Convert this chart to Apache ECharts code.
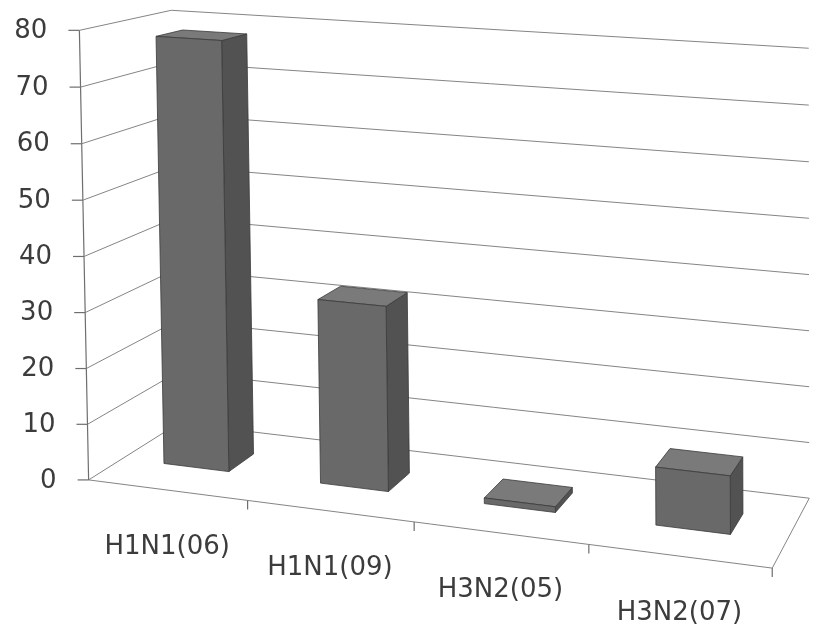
<!DOCTYPE html>
<html>
<head>
<meta charset="utf-8">
<title>H1N1 / H3N2</title>
<script src="https://cdn.jsdelivr.net/npm/echarts@6/dist/echarts.min.js"></script>
<style>
  html, body { margin: 0; padding: 0; background: #ffffff; }
  #chart { width: 827px; height: 629px; }
</style>
</head>
<body>
<div id="chart"></div>
<script>
// ---- data ----
const categories = ['H1N1(06)', 'H1N1(09)', 'H3N2(05)', 'H3N2(07)'];
const values = [78, 33, 1, 10];
const yTicks = [0, 10, 20, 30, 40, 50, 60, 70, 80];
const yTickLabels = ['0', '10', '20', '30', '40', '50', '60', '70', '80'];
const yMax = 80;

// ---- 3D view ----
// Plot box in normalised world units: x across categories (0..1),
// y up the value axis (0..1), z from the front edge (0) to the back wall (1).
// Each entry pins a box corner to the screen; a projective camera is fitted to them.
const VIEW = [
  [[0, 0, 0], [90, 477]],
  [[0, 1, 0], [75, 33]],
  [[0.25, 0, 0], [248, 502]],
  [[0.5, 0, 0], [415, 523]],
  [[0.75, 0, 0], [590, 545]],
  [[1, 0, 0], [773, 565]],
  [[1, 0, 1], [808, 501]],
  [[0, 0, 1], [176, 423]],
  [[0, 1, 1], [176, 9]],
  [[1, 1, 1], [808, 47]]
];
const BAR_WIDTH = 0.42;      // share of a category slot
const BAR_Z = [0.36, 0.66];  // depth of the columns

function fitCamera(pairs) {
  const S = 800;
  const A = [], b = [];
  pairs.forEach(function (p) {
    const x = p[0][0], y = p[0][1], z = p[0][2];
    const u = p[1][0] / S, v = p[1][1] / S;
    A.push([x, y, z, 1, 0, 0, 0, 0, -u * x, -u * y, -u * z]); b.push(u);
    A.push([0, 0, 0, 0, x, y, z, 1, -v * x, -v * y, -v * z]); b.push(v);
  });
  const n = 11;
  const M = [];
  for (let i = 0; i < n; i++) {
    const row = [];
    for (let j = 0; j < n; j++) {
      let s = 0;
      for (let k = 0; k < A.length; k++) s += A[k][i] * A[k][j];
      row.push(s);
    }
    let r = 0;
    for (let k = 0; k < A.length; k++) r += A[k][i] * b[k];
    row.push(r);
    M.push(row);
  }
  for (let c = 0; c < n; c++) {
    let piv = c;
    for (let r = c + 1; r < n; r++) if (Math.abs(M[r][c]) > Math.abs(M[piv][c])) piv = r;
    const t = M[c]; M[c] = M[piv]; M[piv] = t;
    for (let r = 0; r < n; r++) {
      if (r === c) continue;
      const f = M[r][c] / M[c][c];
      for (let k = c; k <= n; k++) M[r][k] -= f * M[c][k];
    }
  }
  const p = M.map(function (row, i) { return row[n] / row[i]; });
  return function (x, y, z) {
    const w = p[8] * x + p[9] * y + p[10] * z + 1;
    return [
      (p[0] * x + p[1] * y + p[2] * z + p[3]) / w * S,
      (p[4] * x + p[5] * y + p[6] * z + p[7]) / w * S
    ];
  };
}
const project = fitCamera(VIEW);

const GRID_COLOR = '#858585';
const AXIS_COLOR = '#6e6e6e';
const TEXT_COLOR = '#3c3c3c';
const FONT = 'DejaVu Sans';

// position of a value on the value axis, as a 0..1 share of its height
function yShare(api, cs, v) {
  const pt = api.coord([0, v]);
  return (cs.y + cs.height - pt[1]) / cs.height;
}

function line(a, b, color, width) {
  return {
    type: 'line',
    shape: { x1: a[0], y1: a[1], x2: b[0], y2: b[1] },
    style: { stroke: color, lineWidth: width || 1 },
    silent: true
  };
}

// walls, floor, value axis, its ticks and labels
function renderFrame(params, api) {
  const cs = params.coordSys;
  const i = params.dataIndex;
  const v = api.value(1);
  const y = yShare(api, cs, v);
  const children = [];
  const f = project(0, y, 0), bl = project(0, y, 1), br = project(1, y, 1);
  children.push({
    type: 'polyline',
    shape: { points: [f, bl, br] },
    style: { stroke: GRID_COLOR, lineWidth: 1, fill: null },
    silent: true
  });
  children.push(line([f[0] - 11, f[1]], f, AXIS_COLOR, 1.2));
  children.push({
    type: 'text',
    style: {
      x: f[0] - 32, y: f[1] + 1,
      text: yTickLabels[i],
      fill: TEXT_COLOR,
      font: '26px "' + FONT + '"',
      align: 'right', verticalAlign: 'middle'
    },
    silent: true
  });
  if (i === 0) {
    children.push(line(project(0, 0, 0), project(0, 1, 0), AXIS_COLOR, 1.2));
    children.push(line(project(0, 0, 0), project(1, 0, 0), GRID_COLOR, 1));
    children.push(line(project(1, 0, 0), project(1, 0, 1), GRID_COLOR, 1));
  }
  return { type: 'group', children: children };
}

// one 3D column per category, with its category label under the floor
function renderBar(params, api) {
  const cs = params.coordSys;
  const idx = api.value(0);
  const val = api.value(1);
  const top = api.coord([idx, val]);
  const base = api.coord([idx, 0]);
  const slot = api.size([1, 0])[0] / cs.width;
  const xc = (top[0] - cs.x) / cs.width - 0.005;
  const yT = (cs.y + cs.height - top[1]) / cs.height;
  const yB = (cs.y + cs.height - base[1]) / cs.height;
  const x0 = xc - slot * BAR_WIDTH / 2, x1 = xc + slot * BAR_WIDTH / 2;
  const z0 = BAR_Z[0], z1 = BAR_Z[1];
  const edge = { stroke: '#3a3a3a', lineWidth: 0.8 };
  const face = function (pts, fill) {
    return { type: 'polygon', shape: { points: pts }, style: Object.assign({ fill: fill }, edge) };
  };
  const children = [
    face([project(x1, yB, z0), project(x1, yB, z1), project(x1, yT, z1), project(x1, yT, z0)], '#525252'),
    face([project(x0, yT, z0), project(x1, yT, z0), project(x1, yT, z1), project(x0, yT, z1)], '#7a7a7a'),
    face([project(x0, yB, z0), project(x1, yB, z0), project(x1, yT, z0), project(x0, yT, z0)], '#696969')
  ];
  // category boundary tick on the front floor edge
  const xr = (top[0] - cs.x) / cs.width + slot / 2;
  const t = project(xr, 0, 0);
  children.push(line(t, [t[0], t[1] + 9], AXIS_COLOR, 1.2));
  // category label
  const lp = project((top[0] - cs.x) / cs.width, 0, 0);
  children.push({
    type: 'text',
    style: {
      x: lp[0], y: lp[1] + 57,
      text: categories[idx],
      fill: TEXT_COLOR,
      font: '26px "' + FONT + '"',
      align: 'center', verticalAlign: 'middle'
    },
    silent: true
  });
  return { type: 'group', children: children };
}

const chart = echarts.init(document.getElementById('chart'), null, { renderer: 'canvas' });
chart.setOption({
  animation: false,
  backgroundColor: '#ffffff',
  grid: { left: 100, right: 100, top: 100, bottom: 100 },
  xAxis: { type: 'category', data: categories, show: false },
  yAxis: { type: 'value', min: 0, max: yMax, interval: 10, show: false },
  series: [
    {
      type: 'custom',
      name: 'frame',
      z: 1,
      renderItem: renderFrame,
      data: yTicks.map(function (v) { return [0, v]; }),
      encode: { x: 0, y: 1 },
      clip: false
    },
    {
      type: 'custom',
      name: 'values',
      z: 2,
      renderItem: renderBar,
      data: values.map(function (v, i) { return [i, v]; }),
      encode: { x: 0, y: 1 },
      clip: false
    }
  ]
});
</script>
</body>
</html>
